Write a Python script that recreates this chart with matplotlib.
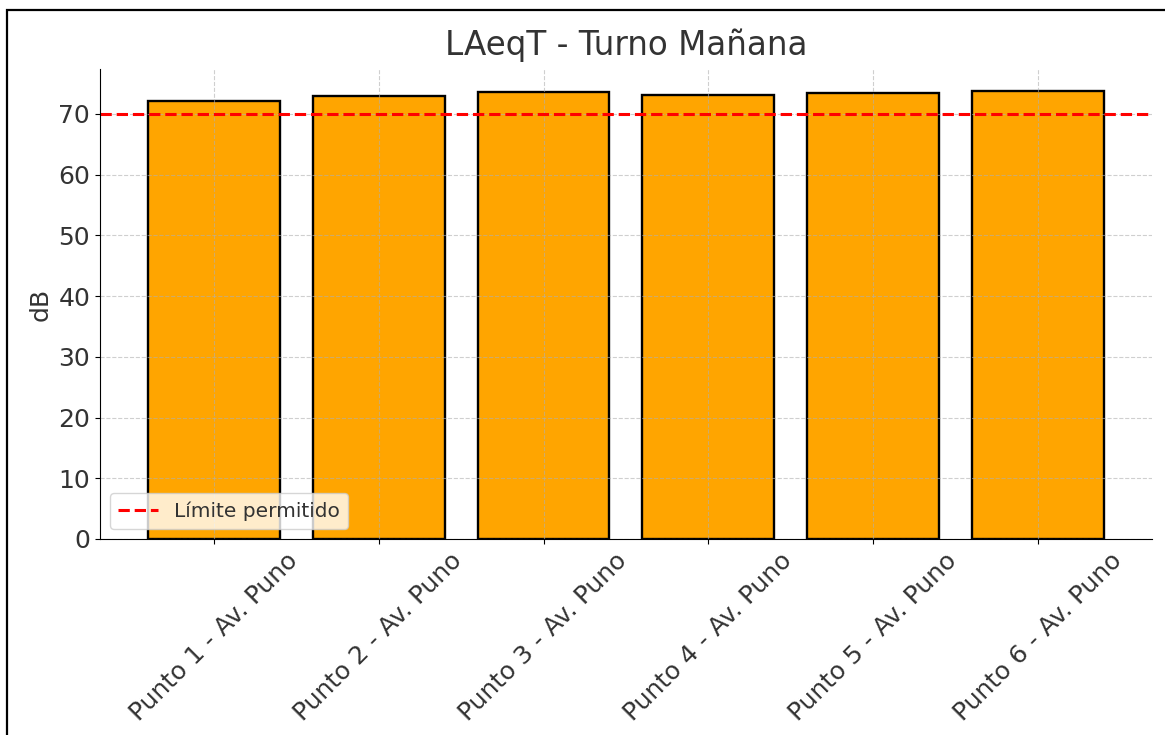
import matplotlib.pyplot as plt
from matplotlib.patches import Rectangle

puntos = ["Punto 1 - Av. Puno", "Punto 2 - Av. Puno", "Punto 3 - Av. Puno",
          "Punto 4 - Av. Puno", "Punto 5 - Av. Puno", "Punto 6 - Av. Puno"]
laeqt = [72.2, 72.9, 73.6, 73.1, 73.4, 73.7]
limite = 70

txt = "#333333"

fig = plt.figure(figsize=(11.65, 7.35), dpi=100)
ax = fig.add_axes([0.0858, 0.2667, 0.903, 0.6393])

ax.bar(puntos, laeqt, color="orange", edgecolor="black", linewidth=1.7)
ax.axhline(limite, color="red", linestyle="--", linewidth=2.2, label="Límite permitido")

ax.set_title("LAeqT - Turno Mañana", fontsize=23.5, color=txt, pad=10)
ax.set_ylabel("dB", fontsize=18, color=txt)
ax.tick_params(axis="both", labelsize=18, labelcolor=txt)
plt.setp(ax.get_xticklabels(), rotation=45)
ax.grid(True, linestyle="--", alpha=0.6)
ax.spines["top"].set_visible(False)
ax.spines["right"].set_visible(False)
ax.legend(loc="lower left", fontsize=14.5, labelcolor=txt)

# black frame round the picture, cut off at right and bottom
fig.patches.append(Rectangle((0.006, -0.05), 1.05, 1.036, transform=fig.transFigure,
                             fill=False, edgecolor="black", linewidth=1.6))

fig.savefig("out.png", dpi=100)
